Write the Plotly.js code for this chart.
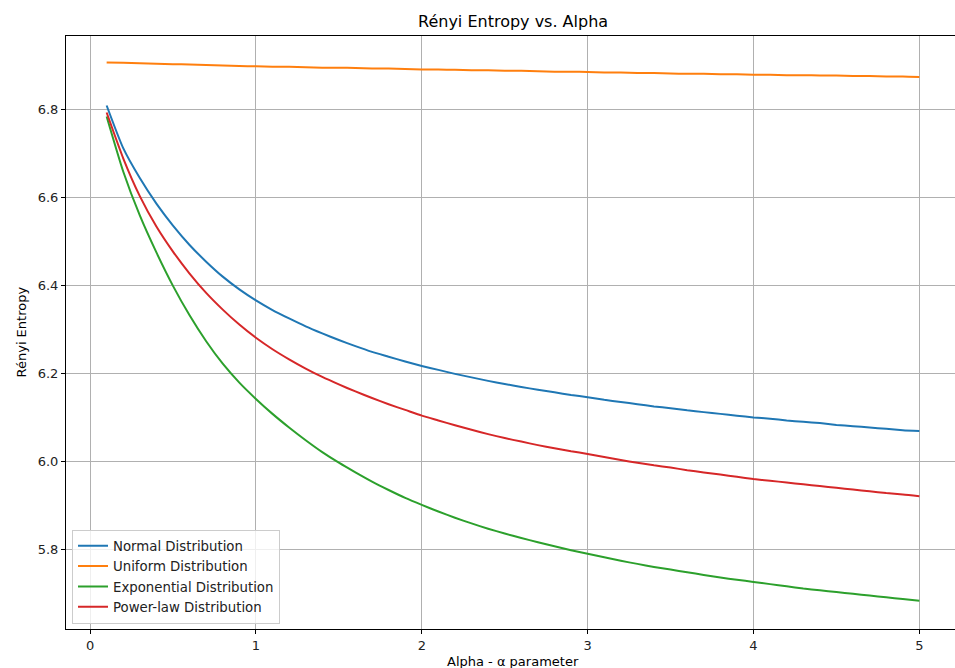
<!DOCTYPE html>
<html>
<head>
<meta charset="utf-8">
<script src="https://cdn.plot.ly/plotly-3.0.1.min.js"></script>
<style>
html,body{margin:0;padding:0;background:#fff;overflow:hidden;width:955px;height:668px;}
#wrap{width:955px;height:668px;overflow:hidden;position:relative;}
#chart{width:1000px;height:668px;position:absolute;left:0;top:0;}
</style>
</head>
<body>
<div id="wrap"><div id="chart"></div></div>
<script>
const alpha = [0.1,0.2,0.3,0.4,0.5,0.6,0.7,0.8,0.9,1.0,
  1.1,1.2,1.3,1.4,1.5,1.6,1.7,1.8,1.9,2.0,
  2.1,2.2,2.3,2.4,2.5,2.6,2.7,2.8,2.9,3.0,
  3.1,3.2,3.3,3.4,3.5,3.6,3.7,3.8,3.9,4.0,
  4.1,4.2,4.3,4.4,4.5,4.6,4.7,4.8,4.9,5.0];

const normalVals = [6.810,6.713,6.645,6.587,6.537,6.493,6.455,6.421,6.392,6.367,
  6.345,6.326,6.308,6.292,6.277,6.263,6.250,6.239,6.228,6.218,
  6.209,6.200,6.192,6.184,6.177,6.170,6.164,6.158,6.152,6.147,
  6.141,6.136,6.131,6.126,6.122,6.117,6.113,6.109,6.105,6.101,
  6.098,6.094,6.091,6.088,6.084,6.081,6.078,6.075,6.072,6.070];

const uniformVals = [6.908,6.907,6.906,6.905,6.904,6.903,6.902,6.901,6.900,6.899,
  6.898,6.898,6.897,6.896,6.896,6.895,6.894,6.894,6.893,6.892,
  6.892,6.891,6.890,6.890,6.889,6.889,6.888,6.887,6.887,6.886,
  6.885,6.885,6.884,6.884,6.883,6.882,6.882,6.881,6.881,6.880,
  6.880,6.879,6.879,6.878,6.878,6.877,6.877,6.876,6.876,6.875];

const exponentialVals = [6.785,6.660,6.560,6.476,6.400,6.333,6.274,6.223,6.180,6.143,
  6.109,6.078,6.049,6.022,5.998,5.976,5.955,5.936,5.918,5.902,
  5.887,5.873,5.860,5.848,5.837,5.827,5.817,5.808,5.799,5.791,
  5.783,5.775,5.768,5.761,5.755,5.749,5.743,5.737,5.732,5.727,
  5.722,5.717,5.712,5.708,5.704,5.700,5.696,5.692,5.688,5.684];

const powerLawVals = [6.794,6.690,6.604,6.535,6.478,6.428,6.384,6.346,6.312,6.282,
  6.256,6.233,6.212,6.193,6.176,6.160,6.145,6.131,6.118,6.105,
  6.094,6.083,6.073,6.063,6.054,6.046,6.038,6.031,6.024,6.018,
  6.011,6.004,5.998,5.992,5.987,5.981,5.976,5.971,5.966,5.961,
  5.957,5.953,5.949,5.945,5.941,5.937,5.933,5.929,5.926,5.922];

const seriesNames = ["Normal Distribution","Uniform Distribution","Exponential Distribution","Power-law Distribution"];
const seriesColors = ["#1f77b4","#ff7f0e","#2ca02c","#d62728"];
const seriesValues = [normalVals, uniformVals, exponentialVals, powerLawVals];

const xTicks = [0,1,2,3,4,5];
const yTicks = [5.8,6.0,6.2,6.4,6.6,6.8];

const FONT = "DejaVu Sans, sans-serif";
const PW = 894; // plot width in px (part beyond 955 is cropped, as in the reference)

const traces = seriesValues.map((v,i)=>({
  x: alpha, y: v, type: "scatter", mode: "lines",
  name: seriesNames[i],
  line: {color: seriesColors[i], width: 2, shape: "spline", smoothing: 0.6}
}));

const layout = {
  width: 1000, height: 668,
  margin: {l:66, r:40, t:36, b:39, pad:0},
  paper_bgcolor: "#ffffff", plot_bgcolor: "#ffffff",
  font: {family: FONT, size: 13, color: "#000000"},
  showlegend: true,
  legend: {
    x: 6/PW, y: 0.009, xanchor: "left", yanchor: "bottom",
    bgcolor: "rgba(255,255,255,0.8)", bordercolor: "#cccccc", borderwidth: 1,
    font: {family: FONT, size: 13.3, color: "#222"},
    tracegroupgap: 0, itemwidth: 30
  },
  xaxis: {
    range: [-0.145, 5.245], tickvals: xTicks, ticktext: xTicks.map(String),
    showgrid: true, gridcolor: "#b0b0b0", gridwidth: 1,
    zeroline: false, showline: true, linecolor: "#000", linewidth: 1, mirror: true,
    ticks: "outside", ticklen: 4, tickcolor: "#000", tickwidth: 1,
    tickfont: {family: FONT, size: 13, color: "#222"}
  },
  yaxis: {
    range: [5.620, 6.968], tickvals: yTicks, ticktext: yTicks.map(v=>v.toFixed(1)),
    showgrid: true, gridcolor: "#b0b0b0", gridwidth: 1,
    zeroline: false, showline: true, linecolor: "#000", linewidth: 1, mirror: true,
    ticks: "outside", ticklen: 4, tickcolor: "#000", tickwidth: 1,
    tickfont: {family: FONT, size: 13, color: "#222"}
  },
  annotations: [
    {text: "Rényi Entropy vs. Alpha", xref: "paper", yref: "paper",
     x: 0.5, y: 1, yshift: 15, xanchor: "center", yanchor: "middle",
     showarrow: false, font: {family: FONT, size: 16, color: "#000"}},
    {text: "Alpha - α parameter", xref: "paper", yref: "paper",
     x: 0.5, y: 0, yshift: -32, xanchor: "center", yanchor: "middle",
     showarrow: false, font: {family: FONT, size: 13, color: "#000"}},
    {text: "Rényi Entropy", xref: "paper", yref: "paper",
     x: 0, xshift: -45, y: 0.5, xanchor: "center", yanchor: "middle", textangle: -90,
     showarrow: false, font: {family: FONT, size: 13, color: "#000"}}
  ]
};

Plotly.newPlot("chart", traces, layout, {displayModeBar: false, staticPlot: true});
</script>
</body>
</html>
